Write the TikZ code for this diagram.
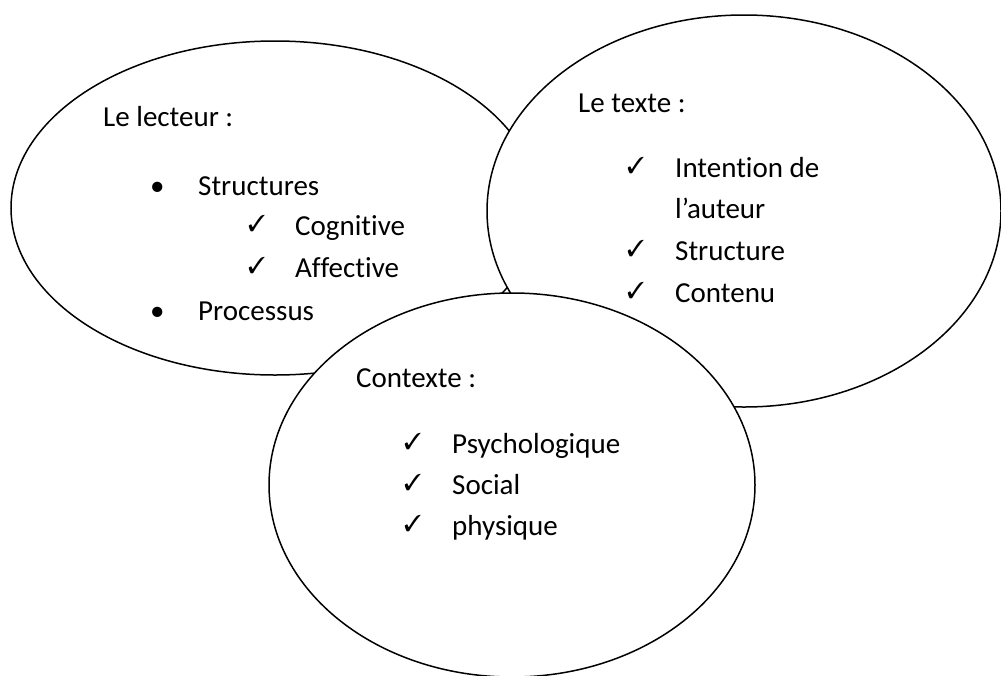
\documentclass[tikz,border=0pt]{standalone}
\usepackage{fontspec}
\setmainfont[Ligatures=NoCommon,RawFeature={-liga;-clig}]{Carlito}
\usepackage{pifont}
\usetikzlibrary{shapes.geometric}
\tikzset{
  bubble/.style={ellipse, draw=black, fill=white, line width=1.5pt, inner sep=0pt},
  txt/.style={anchor=base west, inner sep=0pt, font=\fontsize{29}{35}\selectfont},
  chk/.style={anchor=base west, inner sep=0pt, font=\fontsize{23}{23}\selectfont},
}
\newcommand{\ck}{\ding{51}}
\begin{document}
\begin{tikzpicture}[x=1pt,y=-1pt]
\useasboundingbox (0,0) rectangle (1001,675);
% ellipses
\node[bubble, minimum width=528pt, minimum height=334pt] (e1) at (275,208) {};
\node[bubble, minimum width=514pt, minimum height=392pt] (e2) at (744,211) {};
\node[bubble, minimum width=486pt, minimum height=384pt] (e3) at (512,485) {};
% Le lecteur
\node[txt] (t1) at (103,126) {Le lecteur :};
\node[txt] (b1) at (150,195) {\textbullet};
\node[txt] (s1) at (198,195) {Structures};
\node[chk] (c1) at (248,231) {\ck};
\node[txt] (s2) at (295,235) {Cognitive};
\node[chk] (c2) at (248,273) {\ck};
\node[txt] (s3) at (295,277) {Affective};
\node[txt] (b2) at (150,320) {\textbullet};
\node[txt] (s4) at (198,320) {Processus};
% Le texte
\node[txt] (t2) at (578,112) {Le texte :};
\node[chk] (c3) at (627,173) {\ck};
\node[txt] (u1) at (675,177) {Intention de};
\node[txt] (u2) at (675,218) {l’auteur};
\node[chk] (c4) at (627,256) {\ck};
\node[txt] (u3) at (675,260) {Structure};
\node[chk] (c5) at (627,298) {\ck};
\node[txt] (u4) at (675,302) {Contenu};
% Contexte
\node[txt] (t3) at (356,387) {Contexte :};
\node[chk] (c6) at (404,449) {\ck};
\node[txt] (v1) at (452,453) {Psychologique};
\node[chk] (c7) at (404,490) {\ck};
\node[txt] (v2) at (452,494) {Social};
\node[chk] (c8) at (404,531) {\ck};
\node[txt] (v3) at (452,535) {physique};
\end{tikzpicture}
\end{document}
